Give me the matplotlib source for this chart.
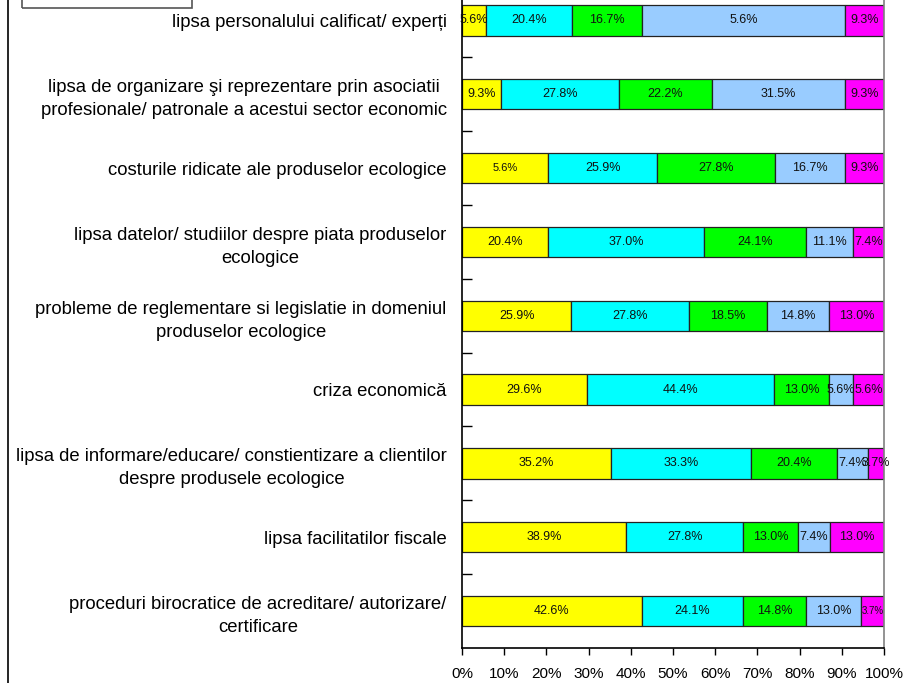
import matplotlib
matplotlib.use("Agg")
import matplotlib.pyplot as plt
from matplotlib.patches import Rectangle
from matplotlib.lines import Line2D
import numpy as np

plt.rcParams['font.family'] = ['Liberation Sans', 'DejaVu Sans']

categories = [
    "lipsa personalului calificat/ experți",
    "lipsa de organizare şi reprezentare prin asociatii\nprofesionale/ patronale a acestui sector economic",
    "costurile ridicate ale produselor ecologice",
    "lipsa datelor/ studiilor despre piata produselor\necologice",
    "probleme de reglementare si legislatie in domeniul\nproduselor ecologice",
    "criza economică",
    "lipsa de informare/educare/ constientizare a clientilor\ndespre produsele ecologice",
    "lipsa facilitatilor fiscale",
    "proceduri birocratice de acreditare/ autorizare/\ncertificare",
]

# bar widths (as drawn) per series
s1 = [5.6, 9.3, 20.4, 20.4, 25.9, 29.6, 35.2, 38.9, 42.6]
s2 = [20.4, 27.8, 25.9, 37.0, 27.8, 44.4, 33.3, 27.8, 24.1]
s3 = [16.7, 22.2, 27.8, 24.1, 18.5, 13.0, 20.4, 13.0, 14.8]
s4 = [48.1, 31.5, 16.7, 11.1, 14.8, 5.6, 7.4, 7.4, 13.0]
s5 = [9.3, 9.3, 9.3, 7.4, 13.0, 7.4, 3.7, 13.0, 5.6]

# data labels as printed on the chart
l1 = ["5.6%", "9.3%", "5.6%", "20.4%", "25.9%", "29.6%", "35.2%", "38.9%", "42.6%"]
l2 = ["20.4%", "27.8%", "25.9%", "37.0%", "27.8%", "44.4%", "33.3%", "27.8%", "24.1%"]
l3 = ["16.7%", "22.2%", "27.8%", "24.1%", "18.5%", "13.0%", "20.4%", "13.0%", "14.8%"]
l4 = ["5.6%", "31.5%", "16.7%", "11.1%", "14.8%", "5.6%", "7.4%", "7.4%", "13.0%"]
l5 = ["9.3%", "9.3%", "9.3%", "7.4%", "13.0%", "5.6%", "3.7%", "13.0%", "3.7%"]

colors = ["#FFFF00", "#00FFFF", "#00FF00", "#99CCFF", "#FF00FF"]
xticks = [0, 10, 20, 30, 40, 50, 60, 70, 80, 90, 100]

fig = plt.figure(figsize=(9.07, 6.83), dpi=100)
ax = fig.add_axes([462/907, 1 - 648/683, (884-462)/907, (648+16.5)/683])

y = np.arange(len(categories))
series = [s1, s2, s3, s4, s5]
labels = [l1, l2, l3, l4, l5]
left = np.zeros(len(categories))
small = {(0, 2): 8, (4, 8): 7}
for i, (vals, labs) in enumerate(zip(series, labels)):
    vals = np.array(vals)
    bars = ax.barh(y, vals, left=left, height=0.41, color=colors[i],
                   edgecolor="#222222", linewidth=0.9)
    for j, (b, lab) in enumerate(zip(bars, labs)):
        fs = small.get((i, j), 9)
        ax.text(left[j] + vals[j] / 2, y[j], lab, ha="center", va="center",
                fontsize=fs, color="#111111")
    left = left + vals

ax.set_xlim(0, 100)
ax.set_ylim(len(categories) - 0.5, -0.5)
ax.set_yticks(y)
ax.set_yticklabels(categories, fontsize=13.3, multialignment="center",
                   linespacing=1.45)
ax.tick_params(axis="y", which="major", length=0, pad=11)
ax.set_yticks(np.arange(len(categories) - 1) + 0.5, minor=True)
ax.tick_params(axis="y", which="minor", direction="in", length=7, width=1)
ax.set_xticks(xticks)
ax.set_xticklabels([f"{t}%" for t in xticks], fontsize=11)
ax.tick_params(axis="x", direction="out", length=5, width=1, pad=8.5)
for sp in ["left", "bottom"]:
    ax.spines[sp].set_linewidth(1.2)
    ax.spines[sp].set_color("black")
ax.spines["top"].set_visible(False)
ax.spines["right"].set_color("#808080")
ax.spines["right"].set_linewidth(1.2)

# outer chart border (left edge) and cropped legend box
fig.add_artist(Line2D([8/907, 8/907], [0, 1], transform=fig.transFigure,
                      color="black", linewidth=1.2))
fig.add_artist(Rectangle((22/907, 1 - 8/683), (192-22)/907, 20/683,
                         transform=fig.transFigure, fill=False,
                         edgecolor="#555555", linewidth=1.2))

fig.savefig("out.png", dpi=100)
